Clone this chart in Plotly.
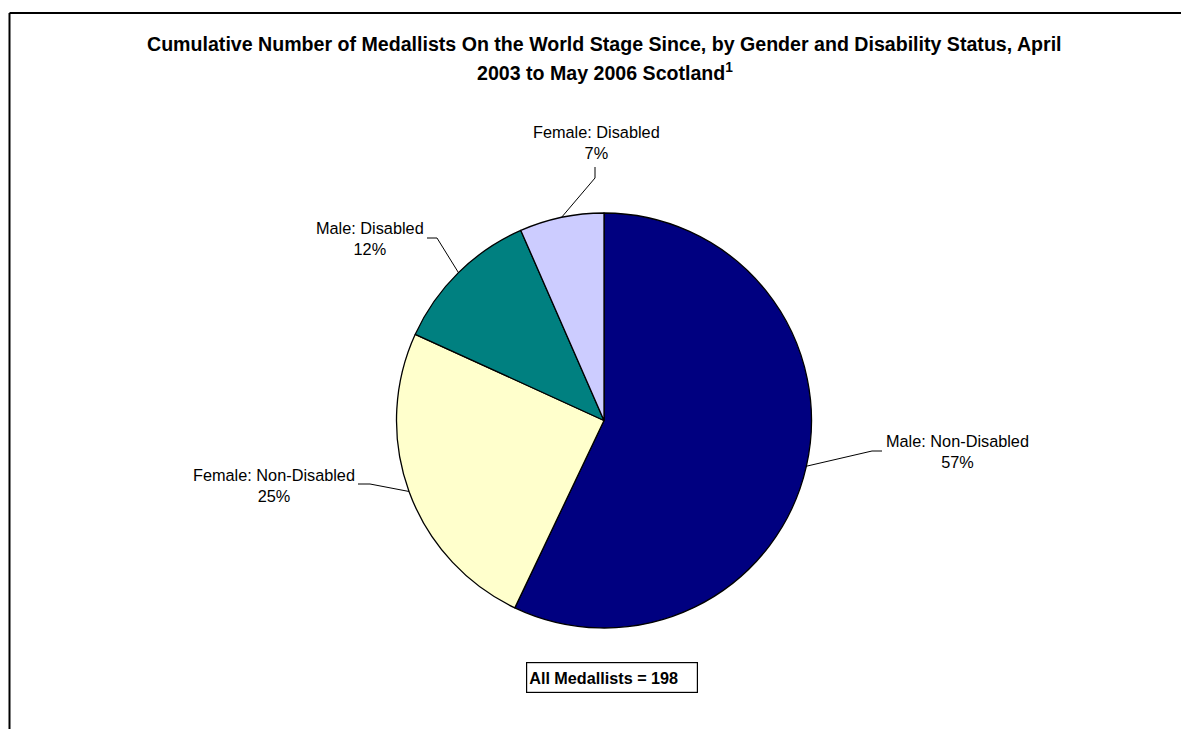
import math
import plotly.graph_objects as go

# ---------------- data ----------------
labels = ["Male: Non-Disabled", "Female: Non-Disabled", "Male: Disabled", "Female: Disabled"]
values = [113, 49, 23, 13]
colors = ["#000080", "#FFFFCC", "#008080", "#CCCCFF"]
title_line1 = "Cumulative Number of Medallists On the World Stage Since, by Gender and Disability Status, April"
title_line2 = "2003 to May 2006 Scotland<sup>1</sup>"
total_note = "All Medallists = 198"

# ---------------- layout constants (pixels, screen coordinates) ----------------
W, H = 1189, 729
OFF = 8  # default page body margin
CX, CY, R = 604, 420.5, 207.5
FONT = "Arial, 'Liberation Sans', sans-serif"

# label placement: (elbow point, line end point, label centre)
label_layout = [
    ((872, 451), (882, 451), (957, 451)),
    ((370, 484), (358, 484), (274, 485)),
    ((437, 238), (427, 238), (370, 238)),
    ((595, 178), (595, 167), (596, 143)),
]


def px(x):
    return (x - OFF) / W


def py(y):
    return 1 - (y - OFF) / H


total = sum(values)

fig = go.Figure(
    go.Pie(
        labels=labels,
        values=values,
        sort=False,
        direction="clockwise",
        rotation=0,
        marker=dict(colors=colors, line=dict(color="black", width=1.3)),
        textinfo="none",
        hoverinfo="label+value+percent",
        domain=dict(x=[px(CX - R), px(CX + R)], y=[py(CY + R), py(CY - R)]),
        showlegend=False,
    )
)

shapes = []
annotations = []

# chart-area border (top and left)
shapes.append(dict(type="line", xref="paper", yref="paper", x0=px(9.5), x1=1, y0=py(13), y1=py(13),
                   line=dict(color="black", width=2)))
shapes.append(dict(type="line", xref="paper", yref="paper", x0=px(9.5), x1=px(9.5), y0=py(13), y1=0,
                   line=dict(color="black", width=2)))

# leader lines and labels
cum = 0
for lab, v, (elbow, end, centre) in zip(labels, values, label_layout):
    theta = 2 * math.pi * (cum + v / 2) / total
    cum += v
    ex = CX + R * math.sin(theta)
    ey = CY - R * math.cos(theta)
    path = "M {} {} L {} {} L {} {}".format(px(ex), py(ey), px(elbow[0]), py(elbow[1]), px(end[0]), py(end[1]))
    shapes.append(dict(type="path", xref="paper", yref="paper", path=path,
                       line=dict(color="black", width=1)))
    pct = round(v / total * 100)
    annotations.append(dict(
        text="{}<br>{}%".format(lab, pct), x=px(centre[0]), y=py(centre[1]),
        xref="paper", yref="paper", xanchor="center", yanchor="middle",
        showarrow=False, align="center", font=dict(family=FONT, size=16.3, color="black"),
    ))

# title lines
annotations.append(dict(text="<b>" + title_line1 + "</b>", x=px(604.5), y=py(44), xref="paper", yref="paper",
                        xanchor="center", yanchor="middle", showarrow=False,
                        font=dict(family=FONT, size=19.6, color="black")))
annotations.append(dict(text="<b>" + title_line2 + "</b>", x=px(604.5), y=py(72), xref="paper", yref="paper",
                        xanchor="center", yanchor="middle", showarrow=False,
                        font=dict(family=FONT, size=19.6, color="black")))

# total note box
annotations.append(dict(text="<b>" + total_note + "</b>", x=px(526), y=py(677), xref="paper", yref="paper",
                        xanchor="left", yanchor="middle", showarrow=False, align="left", valign="middle",
                        width=166, height=25, borderpad=2, bordercolor="black", borderwidth=1.2,
                        bgcolor="white", font=dict(family=FONT, size=16.2, color="black")))

fig.update_layout(
    width=W, height=H,
    margin=dict(l=0, r=0, t=0, b=0),
    paper_bgcolor="white", plot_bgcolor="white",
    shapes=shapes, annotations=annotations,
)

fig.write_html("out.html")
